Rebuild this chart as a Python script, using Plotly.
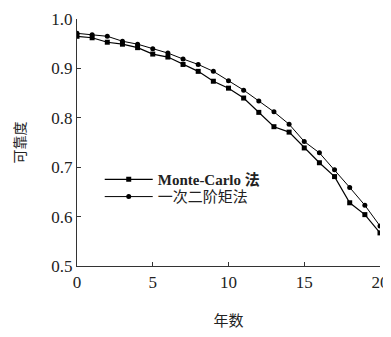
import plotly.graph_objects as go

years = list(range(0, 21))
monte_carlo = [0.965, 0.962, 0.953, 0.949, 0.942, 0.929, 0.923, 0.908, 0.894, 0.874,
               0.860, 0.840, 0.811, 0.782, 0.771, 0.739, 0.709, 0.681, 0.628, 0.604, 0.567]
fosm = [0.971, 0.968, 0.965, 0.955, 0.949, 0.940, 0.931, 0.919, 0.908, 0.894,
        0.875, 0.856, 0.834, 0.812, 0.787, 0.752, 0.729, 0.695, 0.659, 0.623, 0.581]
x_ticks = [0, 5, 10, 15, 20]
y_ticks = [0.5, 0.6, 0.7, 0.8, 0.9, 1.0]
y_tick_labels = ["0.5", "0.6", "0.7", "0.8", "0.9", "1.0"]

fig = go.Figure()
fig.add_trace(go.Scatter(
    x=years, y=monte_carlo, mode="lines+markers", name="<b>Monte-Carlo 法</b>",
    line=dict(color="black", width=1.2),
    marker=dict(symbol="square", size=5, color="black"),
    legend="legend", showlegend=True,
))
fig.add_trace(go.Scatter(
    x=years, y=fosm, mode="lines+markers", name="一次二阶矩法",
    line=dict(color="black", width=1.0),
    marker=dict(symbol="circle", size=5, color="black"),
    legend="legend2", showlegend=True,
))

axis_common = dict(
    showline=True, linecolor="#333", linewidth=1.2, mirror=False,
    ticks="inside", ticklen=4, tickcolor="#333", showgrid=False, zeroline=False,
    tickfont=dict(family="Liberation Serif", size=17, color="#222"),
)
fig.update_xaxes(range=[0, 20], tickvals=x_ticks, automargin="height", **axis_common,
                 title=dict(text="年数", font=dict(family="Noto Sans CJK SC", size=15, color="#222"), standoff=24))
fig.update_yaxes(range=[0.5, 1.0], tickvals=y_ticks, ticktext=y_tick_labels, automargin="width", **axis_common,
                 title=dict(text="可靠度", font=dict(family="Noto Sans CJK SC", size=14, color="#222"), standoff=22))

leg_common = dict(xanchor="left", yanchor="middle", bgcolor="rgba(0,0,0,0)",
                  font=dict(family="Liberation Serif, Noto Sans CJK SC", size=15, color="#222"),
                  itemwidth=48, visible=True)
fig.update_layout(
    width=383, height=329,
    margin=dict(l=68, r=11, t=11, b=64),
    plot_bgcolor="white", paper_bgcolor="white",
    showlegend=True,
    legend=dict(x=0.075, y=0.350, **leg_common),
    legend2=dict(x=0.075, y=0.280, **leg_common),
)
fig.write_html("out.html")
